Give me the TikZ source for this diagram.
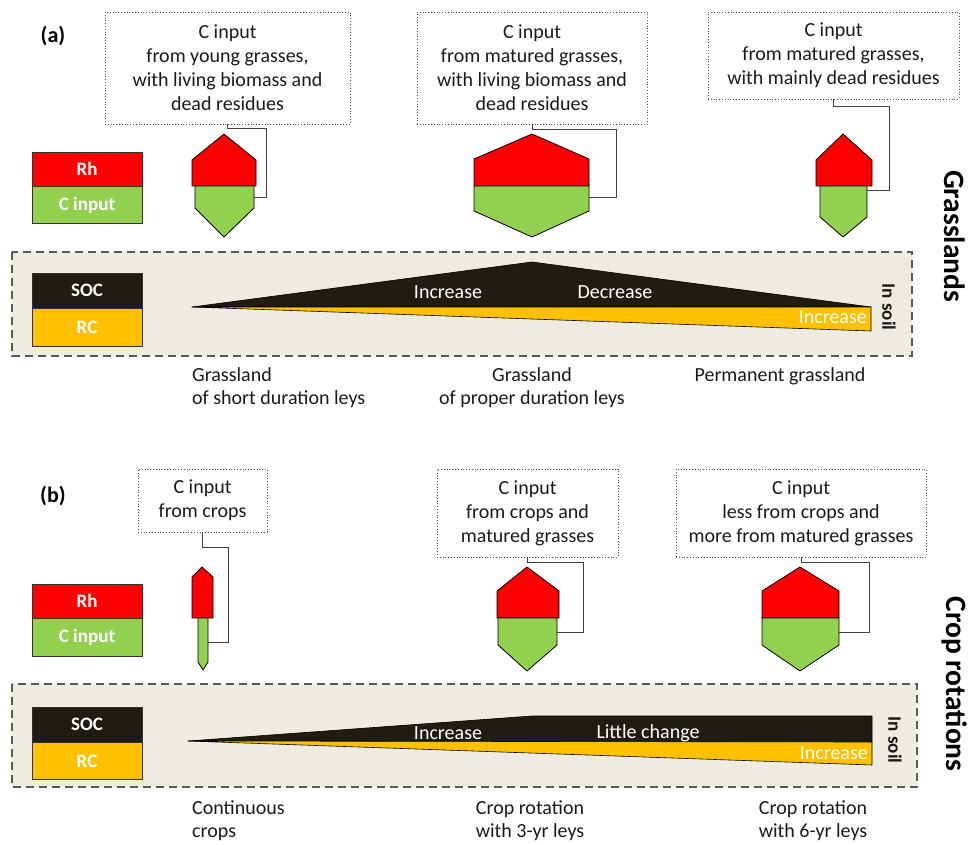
\documentclass[tikz,border=0pt]{standalone}
\usepackage{fontspec}
\setmainfont{Carlito}
\usetikzlibrary{positioning}
\definecolor{rhred}{HTML}{FF0000}
\definecolor{cigreen}{HTML}{92D050}
\definecolor{socdark}{HTML}{1F1C12}
\definecolor{rcyellow}{HTML}{FFC000}
\definecolor{soilbg}{HTML}{EEECE1}
\definecolor{txt}{HTML}{1A1A1A}

\begin{document}
\begin{tikzpicture}[x=1pt, y=-1pt,
  inbox/.style={draw=black!70, dotted, line width=0.8pt, align=center,
    inner sep=0pt, font=\fontsize{20}{24}\selectfont, text=txt},
  legbox/.style={draw=black!80, line width=0.8pt, minimum width=110pt,
    inner sep=0pt, text=white, font=\fontsize{19}{20}\selectfont\bfseries},
  link/.style={draw=black!75, line width=1pt},
  redcap/.style={fill=rhred, draw=black, line width=0.8pt, line join=round},
  greencap/.style={fill=cigreen, draw=black, line width=0.8pt, line join=round},
  soilbox/.style={draw=black!65, dash pattern=on 8pt off 5pt, line width=1.4pt, fill=soilbg},
  wedge/.style={draw=black, line width=0.6pt, line join=round},
  wedgetext/.style={text=white, inner sep=0pt, font=\fontsize{20}{22}\selectfont},
  caption/.style={font=\fontsize{20}{23}\selectfont, text=txt, inner sep=0pt},
  soiltag/.style={rotate=-90, inner sep=0pt, text=txt, font=\fontsize{19}{20}\selectfont\bfseries},
  sidetitle/.style={rotate=-90, inner sep=0pt, font=\fontsize{29.5}{32}\selectfont\bfseries}]
  \useasboundingbox (0,0) rectangle (969,845);

  % ================= (a) grasslands =================
  \node[font=\fontsize{22}{24}\selectfont\bfseries, inner sep=0pt] (labA) at (53,36) {(a)};

  % --- C input boxes ---
  \node[inbox, minimum width=245pt, minimum height=112pt] (inA1) at (227.5,68)
       {C input\\from young grasses,\\with living biomass and\\dead residues};
  \node[inbox, minimum width=230pt, minimum height=112pt] (inA2) at (532,68)
       {C input\\from matured grasses,\\with living biomass and\\dead residues};
  \node[inbox, minimum width=251pt, minimum height=87pt] (inA3) at (833.5,55.5)
       {C input\\from matured grasses,\\with mainly dead residues};

  % --- legend ---
  \node[legbox, fill=rhred, minimum height=34pt] (rhA) at (87,169) {Rh};
  \node[legbox, fill=cigreen, minimum height=37pt, below=0pt of rhA] (ciA) {C input};

  % --- Rh over C input shapes ---
  \draw[redcap] (224,134) -- (256,160) -- (256,186) -- (192,186) -- (192,160) -- cycle;
  \draw[greencap] (195,186) -- (254,186) -- (254,208) -- (224,237) -- (195,208) -- cycle;
  \draw[redcap] (532,134) -- (589,159) -- (589,186) -- (474,186) -- (474,159) -- cycle;
  \draw[greencap] (474,186) -- (589,186) -- (589,211) -- (532,237) -- (474,211) -- cycle;
  \draw[redcap] (843,134) -- (872,160) -- (872,186) -- (816,186) -- (816,160) -- cycle;
  \draw[greencap] (820,186) -- (867,186) -- (867,217) -- (843,237) -- (820,217) -- cycle;
  \coordinate (gA1) at (254,198);
  \coordinate (gA2) at (589,198);
  \coordinate (gA3) at (867,191);
  \coordinate (kA1) at (266,198);
  \coordinate (kA2) at (616,198);
  \coordinate (kA3) at (889,191);

  \draw[link] (inA1.south) -- ++(0,4) -| (kA1) -- (gA1);
  \draw[link] (inA2.south) -- ++(0,5) -| (kA2) -- (gA2);
  \draw[link] (inA3.south) -- ++(0,7) -| (kA3) -- (gA3);

  % --- in soil ---
  \draw[soilbox] (12,252) rectangle (912,356);
  \node[legbox, fill=socdark, minimum height=35pt] (socA) at (87,290.5) {SOC};
  \node[legbox, fill=rcyellow, minimum height=38pt, below=0pt of socA] (rcA) {RC};
  \draw[wedge, fill=socdark] (192,307) -- (532,262) -- (871,307) -- cycle;
  \draw[wedge, fill=rcyellow] (192,307) -- (871,307) -- (871,331) -- cycle;
  \node[wedgetext] at (448,292) {Increase};
  \node[wedgetext] at (615,292) {Decrease};
  \node[wedgetext, anchor=east] at (867,317) {Increase};
  \node[soiltag] at (889,307) {In soil};

  \node[caption, anchor=west, align=left] at (192,388) {Grassland\\of short duration leys};
  \node[caption, align=center] at (532,388) {Grassland\\of proper duration leys};
  \node[caption] at (780,376) {Permanent grassland};

  \node[sidetitle] at (955,236) {Grasslands};

  % ================= (b) crop rotations =================
  \node[font=\fontsize{22}{24}\selectfont\bfseries, inner sep=0pt] (labB) at (53,496) {(b)};

  % --- C input boxes ---
  \node[inbox, minimum width=129pt, minimum height=63pt] (inB1) at (202.5,500.5)
       {C input\\from crops};
  \node[inbox, minimum width=181pt, minimum height=88pt] (inB2) at (527.5,513)
       {C input\\from crops and\\matured grasses};
  \node[inbox, minimum width=250pt, minimum height=88pt] (inB3) at (801,513)
       {C input\\less from crops and\\more from matured grasses};

  % --- legend ---
  \node[legbox, fill=rhred, minimum height=34pt] (rhB) at (87,601) {Rh};
  \node[legbox, fill=cigreen, minimum height=38pt, below=0pt of rhB] (ciB) {C input};

  % --- Rh over C input shapes ---
  \draw[redcap] (202,567) -- (213,577) -- (213,618) -- (192,618) -- (192,577) -- cycle;
  \draw[greencap] (198,618) -- (208,618) -- (208,662) -- (203,670) -- (198,662) -- cycle;
  \draw[redcap] (527,567) -- (559,591) -- (559,618) -- (497,618) -- (497,591) -- cycle;
  \draw[greencap] (498,618) -- (557,618) -- (557,645) -- (527,671) -- (498,645) -- cycle;
  \draw[redcap] (800,567) -- (839,591) -- (839,618) -- (762,618) -- (762,591) -- cycle;
  \draw[greencap] (762,618) -- (839,618) -- (839,645) -- (800,671) -- (762,645) -- cycle;
  \coordinate (gB1) at (208,642);
  \coordinate (gB2) at (557,632);
  \coordinate (gB3) at (839,632);
  \coordinate (kB1) at (228,642);
  \coordinate (kB2) at (583,632);
  \coordinate (kB3) at (869,632);

  \draw[link] (inB1.south) -- ++(0,15) -| (kB1) -- (gB1);
  \draw[link] (inB2.south) -- ++(0,5) -| (kB2) -- (gB2);
  \draw[link] (inB3.south) -- ++(0,5) -| (kB3) -- (gB3);

  % --- in soil ---
  \draw[soilbox] (12,684) rectangle (917,787);
  \node[legbox, fill=socdark, minimum height=35pt] (socB) at (87,724.5) {SOC};
  \node[legbox, fill=rcyellow, minimum height=37pt, below=0pt of socB] (rcB) {RC};
  \draw[wedge, fill=socdark] (188,741) -- (532,716) -- (872,716) -- (872,742) -- cycle;
  \draw[wedge, fill=rcyellow] (188,741) -- (872,742) -- (872,765) -- cycle;
  \node[wedgetext] at (448,733) {Increase};
  \node[wedgetext] at (648,733) {Little change};
  \node[wedgetext, anchor=east] at (868,753) {Increase};
  \node[soiltag] at (895,740) {In soil};

  \node[caption, anchor=west, align=left] at (192,821) {Continuous\\crops};
  \node[caption, align=center] at (530,821) {Crop rotation\\with 3-yr leys};
  \node[caption, align=center] at (813,821) {Crop rotation\\with 6-yr leys};

  \node[sidetitle] at (955,684) {Crop rotations};
\end{tikzpicture}
\end{document}
